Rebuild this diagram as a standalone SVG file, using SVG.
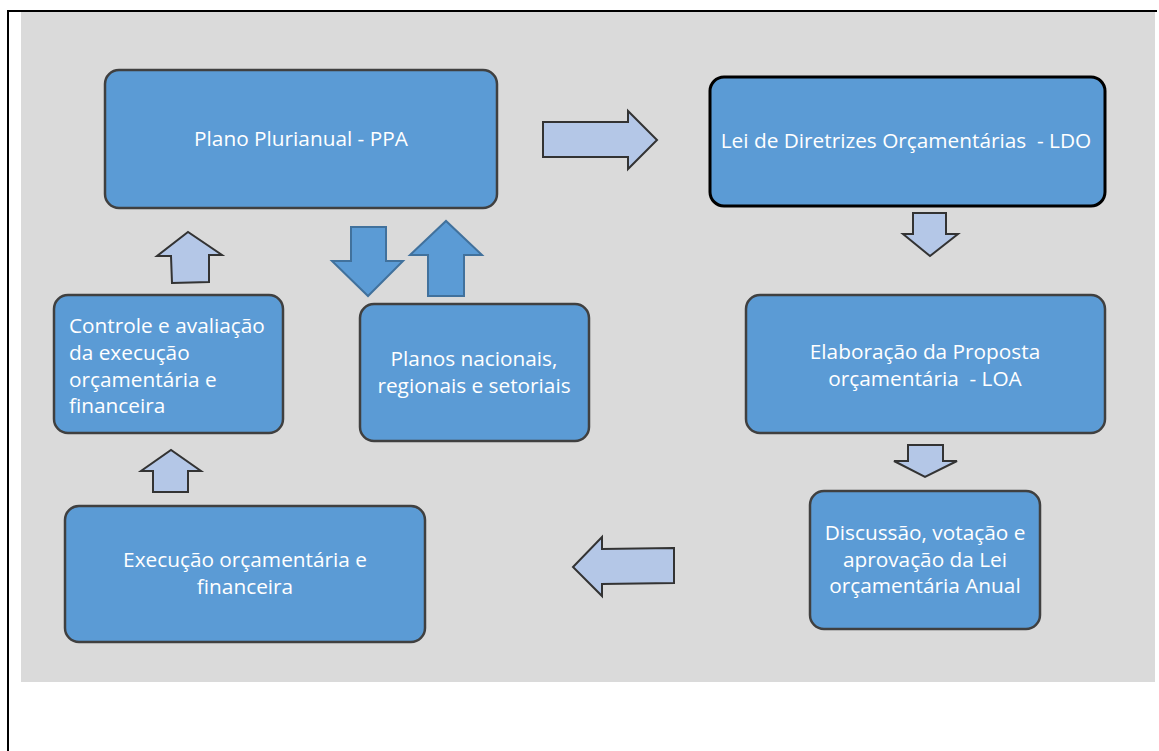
<svg xmlns="http://www.w3.org/2000/svg" width="1159" height="751" viewBox="0 0 1159 751">
<style>
.box{fill:#5B9BD5;stroke:#404040;stroke-width:2.5}
.t{font-family:"Open Sans","Liberation Sans",sans-serif;font-size:20.8px;fill:#FFFFFF;text-anchor:middle}
.tl{text-anchor:start}
.la{fill:#B4C7E7;stroke:#333333;stroke-width:2;stroke-linejoin:miter}
.ba{fill:#5B9BD5;stroke:#41719C;stroke-width:2}
</style>
<rect x="0" y="0" width="1159" height="751" fill="#FFFFFF"/>
<rect x="21" y="12" width="1134" height="670" fill="#DADADA"/>
<line x1="8" y1="11" x2="1157" y2="11" stroke="#000" stroke-width="2"/>
<line x1="8" y1="10" x2="8" y2="751" stroke="#000" stroke-width="2"/>

<g id="connectors">
<polygon class="la" points="543,122 628,122 628,111 657,140 628,169 628,157 543,157"/>
<polygon class="la" points="913,213 946,213 946,234 958,234 930,256 903,234 913,234"/>
<polygon class="la" points="908,445 943,445 943,461 957,461 925,477 894,461 908,461"/>
<polygon class="la" points="674,548 602,549 602,537 573,567 602,596 602,584 674,583"/>
<polygon class="la" points="153,492 188,492 188,471 201,471 171,450 141,471 153,471"/>
<polygon class="la" points="172,283 209,282 209,255 222,255 188,232 157,256 171,256"/>
<polygon class="ba" points="351,227 386,227 386,261 403,261 368,296 332,261 351,261"/>
<polygon class="ba" points="428,296 464,296 464,255 482,255 446,221 410,255 428,255"/>
</g>

<g id="ppa">
<rect class="box" x="105" y="70" width="392" height="138" rx="14"/>
<text class="t" x="301" y="146">Plano Plurianual - PPA</text>
</g>
<g id="ldo">
<rect class="box" x="710" y="77" width="395" height="129" rx="14" style="stroke:#000;stroke-width:3"/>
<text class="t" x="906" y="148" xml:space="preserve">Lei de Diretrizes Orçamentárias  - LDO</text>
</g>
<g id="controle">
<rect class="box" x="54" y="295" width="229" height="138" rx="14"/>
<text class="t tl" x="69" y="333">Controle e avaliação</text>
<text class="t tl" x="69" y="360">da execução</text>
<text class="t tl" x="69" y="387">orçamentária e</text>
<text class="t tl" x="69" y="413">financeira</text>
</g>
<g id="planos">
<rect class="box" x="360" y="304" width="229" height="137" rx="14"/>
<text class="t" x="474" y="366">Planos nacionais,</text>
<text class="t" x="474" y="393">regionais e setoriais</text>
</g>
<g id="elaboracao">
<rect class="box" x="746" y="295" width="359" height="138" rx="14"/>
<text class="t" x="925" y="359">Elaboração da Proposta</text>
<text class="t" x="925" y="386" xml:space="preserve">orçamentária  - LOA</text>
</g>
<g id="discussao">
<rect class="box" x="810" y="491" width="230" height="138" rx="14"/>
<text class="t" x="925" y="540">Discussão, votação e</text>
<text class="t" x="925" y="567">aprovação da Lei</text>
<text class="t" x="925" y="593">orçamentária Anual</text>
</g>
<g id="execucao">
<rect class="box" x="65" y="506" width="360" height="136" rx="14"/>
<text class="t" x="245" y="567">Execução orçamentária e</text>
<text class="t" x="245" y="594">financeira</text>
</g>
</svg>
